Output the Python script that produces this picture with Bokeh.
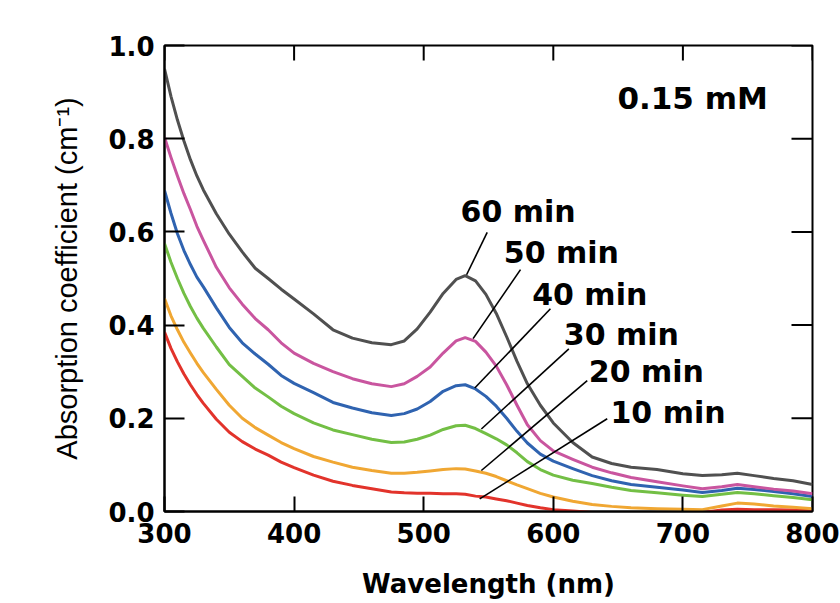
import math
from bokeh.plotting import figure
from bokeh.models import LinearAxis, FixedTicker, PrintfTickFormatter, Range1d, ColumnDataSource
from bokeh.core.properties import value
from bokeh.embed import file_html
from bokeh.resources import INLINE

# ---------------- data ----------------
wavelength = [300, 305, 310, 315, 320, 325, 330,
              340, 350, 360, 370, 380, 390, 400, 415, 430, 445, 460, 475,
              485, 495, 505, 515, 525, 532, 540, 548, 556, 564, 572, 580, 590, 600,
              615, 630, 645, 660, 680, 700, 715, 730, 742, 755, 770, 785, 800]

abs_60 = [.950, .891, .840, .795, .755, .720, .690,
          .639, .595, .557, .522, .500, .477, .456, .424, .390, .372, .362, .358,
          .366, .392, .428, .468, .498, .506, .495, .466, .425, .375, .322, .274, .228, .190,
          .148, .117, .103, .095, .090, .081, .077, .079, .082, .077, .071, .066, .058]
abs_50 = [.803, .760, .720, .682, .648, .612, .582,
          .524, .480, .445, .414, .390, .362, .340, .318, .300, .285, .274, .268,
          .274, .290, .310, .340, .366, .373, .365, .342, .312, .272, .228, .186, .152, .130,
          .112, .095, .083, .073, .064, .055, .049, .053, .058, .053, .048, .044, .038]
abs_40 = [.689, .640, .596, .560, .530, .503, .482,
          .437, .395, .362, .338, .316, .292, .275, .255, .234, .222, .212, .206,
          .210, .220, .236, .258, .270, .272, .263, .247, .226, .200, .172, .147, .123, .108,
          .092, .077, .066, .058, .052, .046, .041, .045, .050, .047, .043, .038, .032]
abs_30 = [.575, .535, .500, .468, .440, .415, .393,
          .353, .315, .290, .265, .246, .226, .210, .190, .175, .165, .155, .148,
          .149, .155, .164, .176, .184, .185, .178, .167, .156, .143, .126, .107, .090, .078,
          .067, .060, .052, .045, .040, .035, .032, .037, .041, .038, .034, .030, .025]
abs_20 = [.457, .420, .390, .363, .340, .318, .298,
          .262, .228, .200, .180, .164, .148, .135, .118, .106, .095, .088, .082,
          .082, .084, .087, .090, .092, .091, .087, .082, .075, .066, .057, .049, .039, .031,
          .022, .015, .011, .008, .006, .005, .004, .012, .018, .016, .012, .009, .006]
abs_10 = [.385, .350, .321, .295, .272, .251, .232,
          .198, .170, .150, .134, .121, .106, .094, .078, .065, .056, .049, .042,
          .040, .039, .039, .038, .038, .037, .033, .031, .027, .023, .018, .013, .008, .004,
          .001, -.002, -.004, -.005, -.005, -.004, -.002, .003, .005, .004, .004, .003, .002]

series_names = ["10 min", "20 min", "30 min", "40 min", "50 min", "60 min"]
series_values = [abs_10, abs_20, abs_30, abs_40, abs_50, abs_60]
series_colors = ["#e2332b", "#f0a733", "#73bf45", "#2f63b0", "#c9559f", "#505050"]

# label anchor (left, middle) and leader line ends for each series
label_x = [644.1, 627.4, 608.1, 583.7, 561.8, 528.4]
label_y = [0.2135, 0.300, 0.380, 0.466, 0.556, 0.643]
lead_x0 = [641.6, 626.2, 612.0, 597.8, 574.7, 549.0]
lead_y0 = [0.199, 0.281, 0.349, 0.435, 0.519, 0.599]
lead_x1 = [543.2, 544.5, 544.5, 539.4, 538.1, 533.1]
lead_y1 = [0.027, 0.088, 0.177, 0.265, 0.371, 0.508]

x_ticks = [300, 400, 500, 600, 700, 800]
y_ticks = [0.0, 0.2, 0.4, 0.6, 0.8, 1.0]

conc_text = "0.15 mM"
conc_x = 649.5
conc_y = 0.887

# ---------------- figure ----------------
p = figure(width=840, height=603, output_backend="svg", toolbar_location=None,
           x_range=Range1d(300, 800), y_range=Range1d(0, 1.0),
           min_border_left=164, min_border_right=28, min_border_top=45, min_border_bottom=92,
           x_axis_location=None, y_axis_location=None)
p.grid.visible = False
p.outline_line_color = "black"
p.outline_line_width = 2
p.background_fill_color = "white"
p.border_fill_color = "white"

TICK_FONT = "DejaVu Sans"

def style_axis(ax, ticks, tick_len):
    ax.ticker = FixedTicker(ticks=ticks)
    ax.axis_line_color = "black"
    ax.axis_line_width = 2
    ax.major_tick_line_color = "black"
    ax.major_tick_line_width = 2
    ax.major_tick_in = tick_len
    ax.major_tick_out = 0
    ax.minor_tick_line_color = None
    ax.major_label_text_font = TICK_FONT
    ax.major_label_text_font_style = "bold"
    ax.major_label_text_font_size = "26px"
    ax.major_label_text_color = "black"

left = LinearAxis()
style_axis(left, y_ticks, 20)
left.formatter = PrintfTickFormatter(format="%.1f")
left.major_label_standoff = 10
left.axis_label = "Absorption coefficient (cm⁻¹)"
left.axis_label_text_font = "Liberation Sans"
left.axis_label_text_font_style = "normal"
left.axis_label_text_font_size = "29px"
left.axis_label_text_color = "black"
left.axis_label_standoff = 22
p.add_layout(left, "left")

bottom = LinearAxis()
style_axis(bottom, x_ticks, 15)
bottom.major_label_standoff = 11
bottom.axis_label = "Wavelength (nm)"
bottom.axis_label_text_font = TICK_FONT
bottom.axis_label_text_font_style = "bold"
bottom.axis_label_text_font_size = "26px"
bottom.axis_label_text_color = "black"
bottom.axis_label_standoff = 23
p.add_layout(bottom, "below")

# inward ticks on the right and top edges (half of each dash is clipped by the frame)
p.scatter(x=[800] * len(y_ticks), y=y_ticks, marker="dash", size=42,
          line_color="black", line_width=2)
p.scatter(x=x_ticks, y=[1.0] * len(x_ticks), marker="dash", size=30, angle=math.pi / 2,
          line_color="black", line_width=2)

# curves
for name, vals, col in zip(series_names, series_values, series_colors):
    src = ColumnDataSource(dict(x=wavelength, y=vals))
    p.line("x", "y", source=src, line_color=col, line_width=3, line_join="round")

# leader lines
p.segment(x0=lead_x0, y0=lead_y0, x1=lead_x1, y1=lead_y1, line_color="black", line_width=1.6)

# series labels
lab_src = ColumnDataSource(dict(x=label_x, y=label_y, t=series_names))
p.text(x="x", y="y", text="t", source=lab_src, text_font=value(TICK_FONT),
       text_font_style="bold", text_font_size="30px", text_color="black",
       text_align="left", text_baseline="middle")

p.text(x=[conc_x], y=[conc_y], text=[conc_text], text_font=value(TICK_FONT),
       text_font_style="bold", text_font_size="31px", text_color="black",
       text_align="left", text_baseline="middle")

open("out.html", "w").write(file_html(p, INLINE))
